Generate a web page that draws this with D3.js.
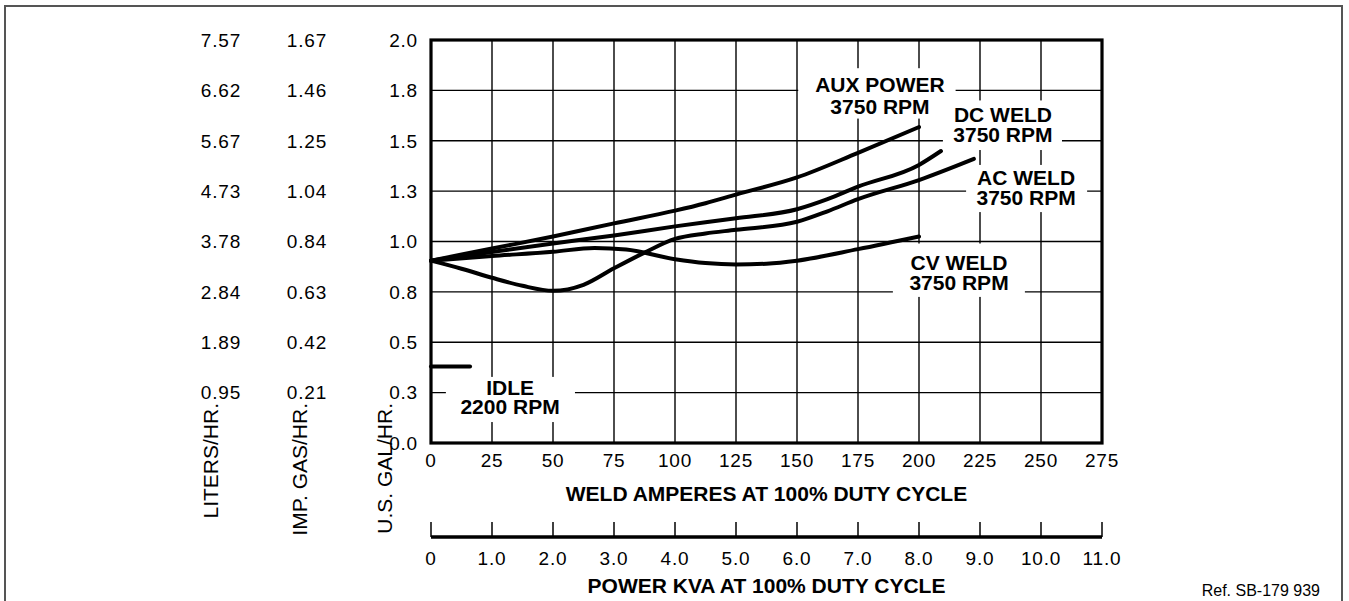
<!DOCTYPE html>
<html>
<head>
<meta charset="utf-8">
<script src="https://cdn.jsdelivr.net/npm/d3@7"></script>
<style>
body { margin: 0; background: #fff; }
svg text { font-family: "Liberation Sans", Arial, Helvetica, sans-serif; fill: #000; }
.num { font-size: 19px; letter-spacing: 0.8px; }
.title { font-size: 21px; }
.bold { font-size: 21px; font-weight: bold; }
</style>
</head>
<body>
<svg id="chart" width="1349" height="601"></svg>
<script>
var width = 1349;
var height = 601;

// axis ticks (weld amps, kva, fuel per hour)
var ampTicks = [0, 25, 50, 75, 100, 125, 150, 175, 200, 225, 250, 275];
var kvaTicks = [0, 1, 2, 3, 4, 5, 6, 7, 8, 9, 10, 11];
var kvaLabels = ["0", "1.0", "2.0", "3.0", "4.0", "5.0", "6.0", "7.0", "8.0", "9.0", "10.0", "11.0"];
var galTicks = [0, 0.25, 0.5, 0.75, 1.0, 1.25, 1.5, 1.75, 2.0];
var galLabels = ["0.0", "0.3", "0.5", "0.8", "1.0", "1.3", "1.5", "1.8", "2.0"];
var impLabels = ["", "0.21", "0.42", "0.63", "0.84", "1.04", "1.25", "1.46", "1.67"];
var literLabels = ["", "0.95", "1.89", "2.84", "3.78", "4.73", "5.67", "6.62", "7.57"];

// curves, U.S. gal/hr
var auxAmps = [0, 25, 50, 75, 100, 112.5, 125, 150, 175, 200];
var auxGal = [0.905, 0.965, 1.025, 1.09, 1.153, 1.19, 1.233, 1.318, 1.44, 1.568];

var dcAmps = [0, 25, 50, 75, 100, 125, 150, 162.5, 175, 200, 209];
var dcGal = [0.905, 0.948, 0.99, 1.03, 1.075, 1.115, 1.16, 1.21, 1.272, 1.38, 1.449];

var acAmps = [0, 12.5, 25, 37.5, 50, 62.5, 75, 87.5, 100, 112.5, 125, 150, 162.5, 175, 200, 222.5];
var acGal = [0.905, 0.865, 0.82, 0.78, 0.755, 0.785, 0.867, 0.945, 1.013, 1.04, 1.058, 1.098, 1.15, 1.21, 1.305, 1.41];

var cvAmps = [0, 25, 50, 67, 80, 100, 112.5, 125, 137.5, 150, 175, 200];
var cvGal = [0.905, 0.928, 0.949, 0.968, 0.96, 0.912, 0.893, 0.886, 0.89, 0.905, 0.962, 1.025];

var idleAmps = [0, 16];
var idleGal = [0.38, 0.38];

var svg = d3.select("#chart");

var x = d3.scaleLinear().domain([0, 275]).range([431, 1102]);
var kva = d3.scaleLinear().domain([0, 11]).range([431, 1102]);
var y = d3.scaleLinear().domain([0, 2]).range([443, 40]);

// outer border
svg.append("rect")
  .attr("x", 5).attr("y", 6)
  .attr("width", 1337).attr("height", 700)
  .attr("fill", "none")
  .attr("stroke", "#555")
  .attr("stroke-width", 2);

// grid
var grid = svg.append("g").attr("stroke", "#000").attr("stroke-width", 1.4);
grid.selectAll("line.v")
  .data(ampTicks.slice(1, -1))
  .enter().append("line")
  .attr("x1", function(d) { return x(d); })
  .attr("x2", function(d) { return x(d); })
  .attr("y1", y(0)).attr("y2", y(2));
grid.selectAll("line.h")
  .data(galTicks.slice(1, -1))
  .enter().append("line")
  .attr("x1", x(0)).attr("x2", x(275))
  .attr("y1", function(d) { return y(d); })
  .attr("y2", function(d) { return y(d); });

// curve labels, white boxes break the grid
var notes = [
  { lines: ["AUX POWER", "3750 RPM"], cx: 184, top: 1.86, bottom: 1.61, left: 150.5, right: 215, l1: 1.78, l2: 1.672 },
  { lines: ["DC WELD", "3750 RPM"], cx: 234.4, top: 1.70, bottom: 1.454, left: 209.8, right: 258.6, l1: 1.633, l2: 1.529 },
  { lines: ["AC WELD", "3750 RPM"], cx: 243.9, top: 1.38, bottom: 1.146, left: 219.3, right: 268.9, l1: 1.32, l2: 1.221 },
  { lines: ["CV WELD", "3750 RPM"], cx: 216.4, top: 0.99, bottom: 0.725, left: 189.3, right: 243.4, l1: 0.898, l2: 0.799 },
  { lines: ["IDLE", "2200 RPM"], cx: 32.4, top: 0.328, bottom: 0.104, left: 6.1, right: 59, l1: 0.278, l2: 0.179 }
];

svg.append("g").selectAll("rect")
  .data(notes)
  .enter().append("rect")
  .attr("x", function(d) { return x(d.left); })
  .attr("y", function(d) { return y(d.top); })
  .attr("width", function(d) { return x(d.right) - x(d.left); })
  .attr("height", function(d) { return y(d.bottom) - y(d.top); })
  .attr("fill", "#fff");

// plot frame
svg.append("rect")
  .attr("x", x(0)).attr("y", y(2))
  .attr("width", x(275) - x(0)).attr("height", y(0) - y(2))
  .attr("fill", "none")
  .attr("stroke", "#000")
  .attr("stroke-width", 3.2);

// curves
var series = [
  { amps: auxAmps, gal: auxGal },
  { amps: dcAmps, gal: dcGal },
  { amps: acAmps, gal: acGal },
  { amps: cvAmps, gal: cvGal },
  { amps: idleAmps, gal: idleGal }
];

var line = d3.line()
  .x(function(d) { return x(d[0]); })
  .y(function(d) { return y(d[1]); })
  .curve(d3.curveMonotoneX);

svg.append("g").selectAll("path")
  .data(series)
  .enter().append("path")
  .attr("d", function(s) { return line(d3.zip(s.amps, s.gal)); })
  .attr("fill", "none")
  .attr("stroke", "#000")
  .attr("stroke-width", 4)
  .attr("stroke-linecap", "round")
  .attr("stroke-linejoin", "round");

// note texts
var noteText = svg.append("g").selectAll("g")
  .data(notes)
  .enter().append("g");
noteText.append("text")
  .attr("class", "bold")
  .attr("text-anchor", "middle")
  .attr("x", function(d) { return x(d.cx); })
  .attr("y", function(d) { return y(d.l1); })
  .attr("dy", "0.36em")
  .text(function(d) { return d.lines[0]; });
noteText.append("text")
  .attr("class", "bold")
  .attr("text-anchor", "middle")
  .attr("x", function(d) { return x(d.cx); })
  .attr("y", function(d) { return y(d.l2); })
  .attr("dy", "0.36em")
  .text(function(d) { return d.lines[1]; });

// y tick label columns
var cols = [
  { labels: literLabels, x: 241 },
  { labels: impLabels, x: 327 },
  { labels: galLabels, x: 418 }
];
cols.forEach(function(c) {
  svg.append("g").selectAll("text")
    .data(galTicks)
    .enter().append("text")
    .attr("class", "num")
    .attr("text-anchor", "end")
    .attr("x", c.x)
    .attr("y", function(d) { return y(d); })
    .attr("dy", "0.36em")
    .text(function(d, i) { return c.labels[i]; });
});

// rotated unit titles
var unitTitles = [
  { text: "LITERS/HR.", x: 218 },
  { text: "IMP. GAS/HR.", x: 307 },
  { text: "U.S. GAL/HR.", x: 392 }
];
svg.append("g").selectAll("text")
  .data(unitTitles)
  .enter().append("text")
  .attr("class", "title")
  .attr("text-anchor", "end")
  .attr("transform", function(d) { return "translate(" + d.x + ",403) rotate(-90)"; })
  .text(function(d) { return d.text; });

// amps tick labels
svg.append("g").selectAll("text")
  .data(ampTicks)
  .enter().append("text")
  .attr("class", "num")
  .attr("text-anchor", "middle")
  .attr("x", function(d) { return x(d); })
  .attr("y", 467)
  .text(function(d) { return d; });

svg.append("text")
  .attr("class", "bold")
  .attr("text-anchor", "middle")
  .attr("x", (x(0) + x(275)) / 2)
  .attr("y", 501)
  .text("WELD AMPERES AT 100% DUTY CYCLE");

// kva scale
var kvaAxis = svg.append("g");
kvaAxis.selectAll("line")
  .data(kvaTicks)
  .enter().append("line")
  .attr("x1", function(d) { return kva(d); })
  .attr("x2", function(d) { return kva(d); })
  .attr("y1", 522).attr("y2", 537)
  .attr("stroke", "#000")
  .attr("stroke-width", 1.5);
kvaAxis.append("line")
  .attr("x1", kva(0)).attr("x2", kva(11))
  .attr("y1", 537).attr("y2", 537)
  .attr("stroke", "#000")
  .attr("stroke-width", 3.5);
kvaAxis.selectAll("text")
  .data(kvaTicks)
  .enter().append("text")
  .attr("class", "num")
  .attr("text-anchor", "middle")
  .attr("x", function(d) { return kva(d); })
  .attr("y", 565)
  .text(function(d, i) { return kvaLabels[i]; });

svg.append("text")
  .attr("class", "bold")
  .attr("text-anchor", "middle")
  .attr("x", (x(0) + x(275)) / 2)
  .attr("y", 593)
  .text("POWER KVA AT 100% DUTY CYCLE");

svg.append("text")
  .attr("text-anchor", "end")
  .attr("x", 1320)
  .attr("y", 596)
  .style("font-size", "16px")
  .text("Ref. SB-179 939");
</script>
</body>
</html>
